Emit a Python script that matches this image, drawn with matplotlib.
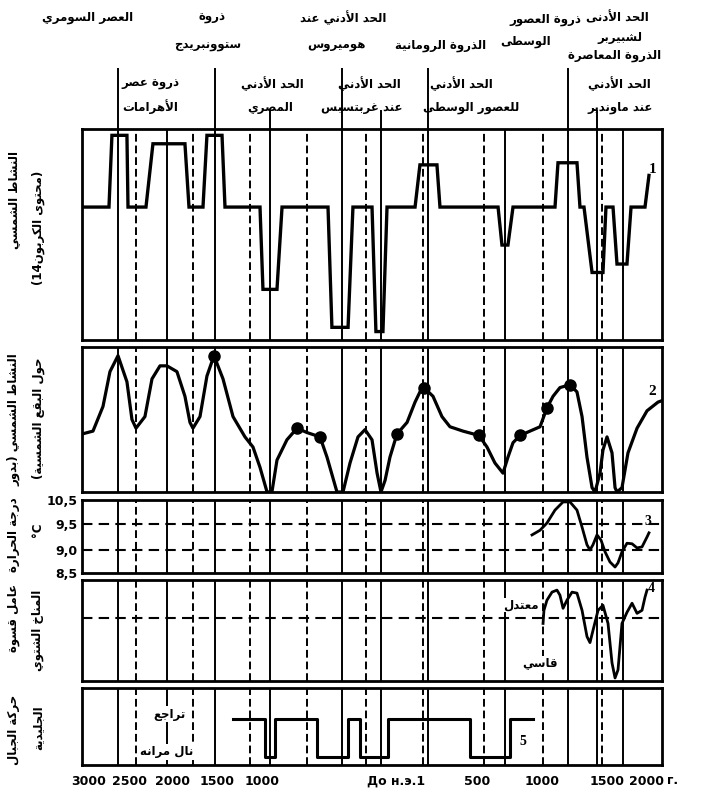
import re
import numpy as np
import matplotlib
matplotlib.use('Agg')
import matplotlib.pyplot as plt

# ---------------- DATA ----------------
tick_years = [-3000, -2500, -2000, -1500, -1000, 0, 500, 1000, 1500, 2000]
tick_labels = ['3000', '2500', '2000', '1500', '1000', 'До н.э.1', '500', '1000', '1500', '2000']

solid_years = [-2650, -2070, -1520, -950, -510, -270, 30, 715, 1200, 1423, 1705]
dashed_years = [-2430, -1773, -1133, -724, -362, -10, 554, 1008, 1462]
header_full_years = [-2650, -1520, -510, 30, 1200]
header_stub_years = [-950, -270, 1423]

# 1: solar activity (C14 content), relative units
c14_years = [-3085, -2756, -2720, -2537, -2524, -2314, -2233, -1864, -1818, -1659, -1614,
             -1444, -1411, -1022, -994, -908, -877, -595, -571, -472, -442, -325, -301,
             -258, -233, -61, -31, 115, 144, 662, 692, 738, 777, 1100, 1123, 1269, 1292,
             1323, 1385, 1469, 1492, 1577, 1628, 1756, 1808, 1987, 2038]
c14_vals = [63, 63, 97, 97, 63, 63, 93, 93, 63, 63, 97, 97, 63, 63, 24, 24, 63, 63, 6, 6,
            63, 63, 4, 4, 63, 63, 83, 83, 63, 63, 45, 45, 63, 63, 84, 84, 63, 63, 32, 32,
            63, 63, 36, 36, 63, 63, 78]

# 2: solar activity (sunspot cycles), relative units
sun_years = [-3085, -2951, -2829, -2744, -2646, -2537, -2477, -2430, -2326, -2244, -2151,
             -2070, -1955, -1864, -1807, -1773, -1693, -1614, -1534, -1433, -1322, -1189,
             -1100, -1022, -969, -939, -908, -847, -785, -724, -644, -601, -540, -503,
             -460, -411, -368, -325, -294, -270, -245, -215, -172, -110, -61, -31, -6, 77,
             163, 240, 365, 515, 577, 638, 700, 738, 777, 831, 908, 985, 1038, 1085, 1138,
             1215, 1269, 1308, 1346, 1385, 1408, 1446, 1469, 1500, 1564, 1603, 1628, 1692,
             1769, 1885, 2013, 2154, 2205]
sun_vals = [40, 42, 59, 83, 94, 76, 50, 44, 52, 78, 87, 87, 83, 66, 48, 44, 52, 80, 94, 78,
            52, 38, 31, 17, 0, 0, 22, 36, 44, 41, 38, 24, 0, 0, 20, 38, 43, 36, 13, 0, 8,
            24, 40, 48, 62, 69, 72, 66, 52, 45, 42, 39, 31, 20, 13, 24, 34, 39, 42, 45, 58,
            66, 72, 74, 69, 52, 24, 3, 0, 13, 29, 38, 27, 3, 0, 3, 27, 44, 56, 62, 63]
dot_years = [-1534, -785, -644, -172, -6, 515, 831, 1038, 1215]
dot_vals = [94, 44, 38, 40, 72, 39, 39, 58, 74]

# 3: temperature, deg C
temp_years = [923, 985, 1038, 1100, 1162, 1215, 1269, 1308, 1346, 1369, 1392, 1423, 1454,
              1485, 1538, 1603, 1641, 1692, 1756, 1821, 1885, 1949, 2013, 2038]
temp_vals = [9.29, 9.38, 9.54, 10.08, 10.42, 10.42, 10.08, 9.44, 9.10, 9.0, 9.10, 9.29,
             9.19, 8.96, 8.74, 8.63, 8.72, 8.96, 9.13, 9.12, 9.04, 9.06, 9.25, 9.33]
temp_ticks = [8.5, 9.0, 9.5, 10.5]
temp_tick_labels = ['8,5', '9,0', '9,5', '10,5']
temp_ref = [9.0, 9.5]

# 4: winter severity index
winter_years = [1008, 1015, 1038, 1077, 1115, 1138, 1162, 1192, 1231, 1269, 1308, 1346,
                1369, 1392, 1431, 1469, 1513, 1564, 1603, 1641, 1692, 1756, 1821, 1885,
                1949, 1987, 2013]
winter_vals = [57, 70, 80, 88, 90, 85, 72, 80, 88, 87, 70, 44, 38, 50, 70, 75, 57, 18, 3,
               11, 57, 68, 77, 67, 70, 83, 90]
winter_mid = 62

# 5: glacier movement (1 = advance, 0 = retreat)
glacier_years = [-1322, -982, -920, -663, -472, -399, -227, 433, 754, 931]
glacier_state = [1, 0, 1, 0, 1, 0, 1, 0, 1, 1]

# ---------------- Arabic shaping helper ----------------
_AR = {'\u0621': (0xFE80, 1), '\u0622': (0xFE81, 2), '\u0623': (0xFE83, 2),
       '\u0624': (0xFE85, 2), '\u0625': (0xFE87, 2), '\u0626': (0xFE89, 4),
       '\u0627': (0xFE8D, 2), '\u0628': (0xFE8F, 4), '\u0629': (0xFE93, 2),
       '\u062A': (0xFE95, 4), '\u062B': (0xFE99, 4), '\u062C': (0xFE9D, 4),
       '\u062D': (0xFEA1, 4), '\u062E': (0xFEA5, 4), '\u062F': (0xFEA9, 2),
       '\u0630': (0xFEAB, 2), '\u0631': (0xFEAD, 2), '\u0632': (0xFEAF, 2),
       '\u0633': (0xFEB1, 4), '\u0634': (0xFEB5, 4), '\u0635': (0xFEB9, 4),
       '\u0636': (0xFEBD, 4), '\u0637': (0xFEC1, 4), '\u0638': (0xFEC5, 4),
       '\u0639': (0xFEC9, 4), '\u063A': (0xFECD, 4), '\u0641': (0xFED1, 4),
       '\u0642': (0xFED5, 4), '\u0643': (0xFED9, 4), '\u0644': (0xFEDD, 4),
       '\u0645': (0xFEE1, 4), '\u0646': (0xFEE5, 4), '\u0647': (0xFEE9, 4),
       '\u0648': (0xFEED, 2), '\u0649': (0xFEEF, 2), '\u064A': (0xFEF1, 4)}
_LA = {'\u0622': 0xFEF5, '\u0623': 0xFEF7, '\u0625': 0xFEF9, '\u0627': 0xFEFB}


def ar(text):
    ch = list(text)
    n = len(ch)
    out = []
    i = 0
    while i < n:
        c = ch[i]
        if c not in _AR:
            out.append(c)
            i += 1
            continue
        prev = ch[i - 1] if i > 0 else None
        jp = prev in _AR and _AR[prev][1] == 4
        if c == '\u0644' and i + 1 < n and ch[i + 1] in _LA:
            out.append(chr(_LA[ch[i + 1]] + (1 if jp else 0)))
            i += 2
            continue
        base, nf = _AR[c]
        nxt = ch[i + 1] if i + 1 < n else None
        jn = nxt in _AR and nf == 4
        if nf == 4:
            f = 3 if (jp and jn) else 1 if jp else 2 if jn else 0
        elif nf == 2:
            f = 1 if jp else 0
        else:
            f = 0
        out.append(chr(base + f))
        i += 1
    s = ''.join(out)[::-1]
    s = re.sub(r'[0-9A-Za-z]+', lambda m: m.group(0)[::-1], s)
    return s.translate(str.maketrans('()', ')('))


# ---------------- scales ----------------
XP = np.array([89, 130, 173, 217, 262, 425, 477, 542, 607, 646], float)
XA = np.array(tick_years, float)
TP = np.array([0, 23, 49, 73], float)
TA = np.array(temp_ticks, float)


def pw(x, a, b):
    x = np.asarray(x, float)
    y = np.interp(x, a, b)
    y = np.where(x < a[0], b[0] + (x - a[0]) * (b[1] - b[0]) / (a[1] - a[0]), y)
    y = np.where(x > a[-1], b[-1] + (x - a[-1]) * (b[-1] - b[-2]) / (a[-1] - a[-2]), y)
    return y


xfwd = lambda x: pw(x, XA, XP)
xinv = lambda p: pw(p, XP, XA)
XMIN, XMAX = -3085, 2205

W, H = 708, 798
fig = plt.figure(figsize=(W / 100, H / 100), dpi=100)
fig.patch.set_facecolor('white')

AF = 'DejaVu Sans'


def ax_at(top, bottom, left=82, right=662):
    return fig.add_axes([left / W, 1 - bottom / H, (right - left) / W, (bottom - top) / H])


def ftext(px, py, s, size=8.5, rot=0, **kw):
    fig.text(px / W, 1 - py / H, ar(s), ha='center', va='center', fontsize=size,
             fontweight='bold', family=AF, rotation=rot, **kw)


panels = [ax_at(129, 340), ax_at(347, 492), ax_at(500, 573), ax_at(580, 681), ax_at(688, 765)]

for ax in panels:
    ax.set_xscale('function', functions=(xfwd, xinv))
    ax.set_xlim(XMIN, XMAX)
    for sp in ax.spines.values():
        sp.set_linewidth(2.0)
    ax.tick_params(length=0)
    ax.set_yticks([])
    ax.set_xticks([])
    for y in solid_years:
        ax.axvline(y, color='k', lw=1.4, zorder=1)
    for y in dashed_years:
        ax.axvline(y, color='k', lw=1.4, ls=(0, (4, 2)), zorder=1)

ax1, ax2, ax3, ax4, ax5 = panels

# header axes for the extended separators
axh = ax_at(68, 129)
axh.set_xscale('function', functions=(xfwd, xinv))
axh.set_xlim(XMIN, XMAX)
axh.set_ylim(0, 1)
axh.axis('off')
for y in header_full_years:
    axh.axvline(y, 0, 1, color='k', lw=1.4)
for y in header_stub_years:
    axh.axvline(y, 0, 0.3, color='k', lw=1.4)

# panel 1
ax1.set_ylim(0, 100)
ax1.plot(c14_years, c14_vals, color='k', lw=2.4, zorder=3, solid_joinstyle='miter')
ax1.text(2090, 81, '1', fontsize=11, fontweight='bold', family='Liberation Serif',
         ha='center', va='center')

# panel 2
ax2.set_ylim(0, 100)
ax2.plot(sun_years, sun_vals, color='k', lw=2.3, zorder=3, solid_joinstyle='round')
ax2.plot(dot_years, dot_vals, 'o', color='k', ms=8, zorder=4)
ax2.text(2077, 69, '2', fontsize=11, fontweight='bold', family='Liberation Serif',
         ha='center', va='center')

# panel 3
ax3.set_yscale('function', functions=(lambda t: pw(t, TA, TP), lambda p: pw(p, TP, TA)))
ax3.set_ylim(8.5, 10.5)
for t in temp_ref:
    ax3.axhline(t, color='k', lw=1.5, ls=(0, (5, 3)), zorder=1)
ax3.plot(temp_years, temp_vals, color='k', lw=2.0, zorder=3)
ax3.set_yticks(temp_ticks)
ax3.set_yticklabels(temp_tick_labels, fontsize=9, fontweight='bold')
ax3.tick_params(axis='y', length=0, pad=3)
ax3.text(2026, 9.62, '3', fontsize=10, fontweight='bold', family='Liberation Serif',
         ha='center', va='center')

# panel 4
ax4.set_ylim(0, 100)
ax4.axhline(winter_mid, color='k', lw=1.5, ls=(0, (5, 3)), zorder=1)
ax4.plot(winter_years, winter_vals, color='k', lw=2.0, zorder=3)
ax4.text(2070, 92, '4', fontsize=10, fontweight='bold', family='Liberation Serif',
         ha='center', va='center')
ax4.text(975, 75, ar('معتدل'), fontsize=8.5, fontweight='bold', family=AF,
         ha='right', va='center', zorder=5,
         bbox=dict(boxstyle='square,pad=0.05', fc='white', ec='none'))
ax4.text(985, 18, ar('قاسي'), fontsize=8.5, fontweight='bold', family=AF,
         ha='center', va='center', zorder=5,
         bbox=dict(boxstyle='square,pad=0.05', fc='white', ec='none'))

# panel 5
ax5.set_ylim(-0.2, 1.8)
ax5.plot(glacier_years, glacier_state, drawstyle='steps-post', color='k', lw=2.2, zorder=3)
ax5.text(854, 0.42, '5', fontsize=10, fontweight='bold', family='Liberation Serif',
         ha='center', va='center')
ax5.text(-2035, 1.12, ar('تراجع'), fontsize=8.5, fontweight='bold', family=AF,
         ha='center', va='center', zorder=5,
         bbox=dict(boxstyle='square,pad=0.1', fc='white', ec='none'))
ax5.text(-2070, 0.14, ar('نال مرانه'), fontsize=8.5, fontweight='bold', family=AF,
         ha='center', va='center', zorder=5,
         bbox=dict(boxstyle='square,pad=0.1', fc='white', ec='none'))
ax5.set_xticks(tick_years)
ax5.set_xticklabels(tick_labels, fontsize=9, fontweight='bold')
ax5.tick_params(axis='x', length=0, pad=7)
for lab in ax5.get_xticklabels():
    if lab.get_text().startswith('До'):
        lab.set_ha('right')
fig.text(667 / W, 1 - 781 / H, 'г.', fontsize=9, fontweight='bold', ha='left', va='center')

# header texts
ftext(88, 18, 'العصر السومري')
ftext(212, 18, 'ذروة')
ftext(343, 18, 'الحد الأدني عند')
ftext(545, 19, 'ذروة العصور')
ftext(617, 18, 'الحد الأدنى')
ftext(208, 45, 'ستوونبريدج')
ftext(337, 45, 'هوميروس')
ftext(441, 46, 'الذروة الرومانية')
ftext(526, 42, 'الوسطى')
ftext(620, 37, 'لشبيربر')
ftext(615, 55, 'الذروة المعاصرة')

ftext(150, 84, 'ذروة عصر')
ftext(150, 107, 'الأهرامات')
ftext(272, 84, 'الحد الأدني')
ftext(270, 107, 'المصري')
ftext(369, 84, 'الحد الأدني')
ftext(362, 107, 'عند غربتسبس')
ftext(461, 84, 'الحد الأدني')
ftext(471, 107, 'للعصور الوسطى')
ftext(619, 84, 'الحد الأدني')
ftext(620, 107, 'عند ماوندير')

# left axis titles
ftext(14, 200, 'النشاط الشمسي', rot=90)
ftext(38, 228, '(محتوى الكربون14)', rot=90)
ftext(14, 420, 'النشاط الشمسي (بدور', rot=90)
ftext(38, 418, 'حول البقع الشمسية)', rot=90)
ftext(14, 535, 'درجة الحرارة', rot=90)
fig.text(38 / W, 1 - 530 / H, '°C', rotation=90, fontsize=8.5, fontweight='bold',
         ha='center', va='center')
ftext(14, 618, 'عامل قسوة', rot=90)
ftext(38, 630, 'المناخ الشتوي', rot=90)
ftext(14, 730, 'حركة الجبال', rot=90)
ftext(38, 728, 'الجليدية', rot=90)

fig.savefig('out.png', dpi=100, facecolor='white')
